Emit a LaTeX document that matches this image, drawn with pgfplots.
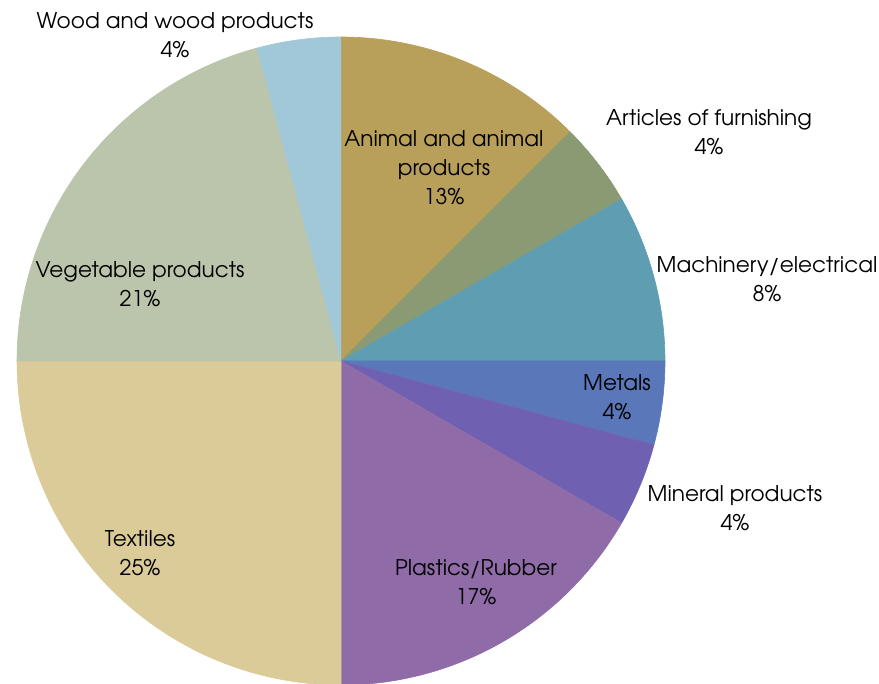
\documentclass[border=0pt]{standalone}
\usepackage{pgfplots}
\pgfplotsset{compat=1.18}
\usepackage{fontspec}
\setmainfont{TeX Gyre Adventor}
\definecolor{cAnimal}{HTML}{B8A05A}
\definecolor{cArticles}{HTML}{8A9A72}
\definecolor{cMach}{HTML}{5E9DB2}
\definecolor{cMetals}{HTML}{5A78B9}
\definecolor{cMineral}{HTML}{7060B2}
\definecolor{cPlastics}{HTML}{8F6BA8}
\definecolor{cTextiles}{HTML}{DACB98}
\definecolor{cVeg}{HTML}{BAC5AB}
\definecolor{cWood}{HTML}{A0C8D8}
\newcommand\total{24}
\xdef\cum{0}
\newcommand\slice[2]{%
  \pgfmathsetmacro\sa{90-\cum*360/\total}%
  \pgfmathsetmacro\sspan{-#1*360/\total}%
  \pgfmathsetmacro\tmp{\cum+#1}\xdef\cum{\tmp}%
  \edef\doplot{\noexpand\addplot[fill=#2, draw=#2, line width=0.3pt, samples at={-1,0,...,60}] ({341+324*(x>-0.5)*cos(\sa+x*(\sspan)/60)},{323+324*(x>-0.5)*sin(\sa+x*(\sspan)/60)});}%
  \doplot
}
\begin{document}
\begin{tikzpicture}
\begin{axis}[scale only axis, width=439.5pt, height=342pt,
  xmin=0, xmax=879, ymin=0, ymax=684, hide axis, clip=false]
% values (counts out of 24), clockwise from 12 o'clock
\slice{3}{cAnimal}
\slice{1}{cArticles}
\slice{2}{cMach}
\slice{1}{cMetals}
\slice{1}{cMineral}
\slice{4}{cPlastics}
\slice{6}{cTextiles}
\slice{5}{cVeg}
\slice{1}{cWood}
\tikzset{lbl/.style={align=center, font=\fontsize{10.8}{14.5}\selectfont, text=black, inner sep=0pt}}
\node[lbl] at (axis cs:444,516.5) {Animal and animal\\products\\13\%};
\node[lbl] at (axis cs:709,551.5) {Articles of furnishing\\4\%};
\node[lbl] at (axis cs:767,405) {Machinery/electrical\\8\%};
\node[lbl] at (axis cs:617,287) {Metals\\4\%};
\node[lbl] at (axis cs:735,175.5) {Mineral products\\4\%};
\node[lbl] at (axis cs:476,102) {Plastics/Rubber\\17\%};
\node[lbl] at (axis cs:140,130.5) {Textiles\\25\%};
\node[lbl] at (axis cs:140,399.5) {Vegetable products\\21\%};
\node[lbl] at (axis cs:175,648.5) {Wood and wood products\\4\%};
\end{axis}
\pgfresetboundingbox
\path (0,0) rectangle (439.5pt,342pt);
\end{tikzpicture}
\end{document}
